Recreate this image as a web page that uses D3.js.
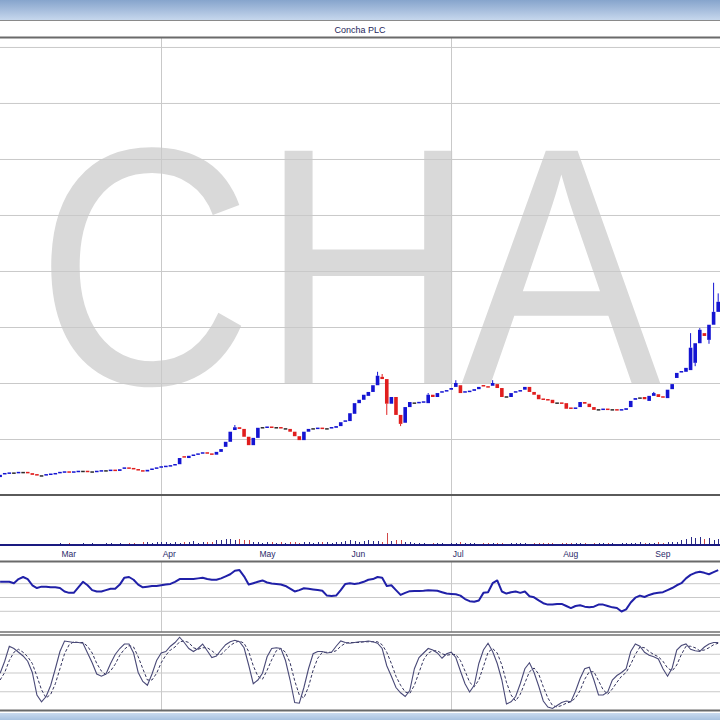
<!DOCTYPE html>
<html><head><meta charset="utf-8">
<script src="https://cdn.jsdelivr.net/npm/d3@7"></script>
<style>body{margin:0;background:#fff}svg{display:block}</style>
</head><body><svg id="c" width="720" height="720"></svg>
<script>
// ---------- DATA ----------
const title = "Concha PLC";
const watermarkLetters = ["C","H","A"];
const monthLabels = ["Mar","Apr","May","Jun","Jul","Aug","Sep"];
const monthStart  = [13, 35, 56, 76, 98, 122, 142];      // trading-day index of month start
const quarterStart = [35, 98];                            // Apr, Jul gridlines
const priceTicks = [1,2,3,4,5,6,7,8];
const rsiTicks = [30,50,70];
const stochTicks = [25,50,75];

const open = [
0.32,0.36,0.38,0.39,0.39,0.40,0.40,0.39,0.36,0.34,
0.34,0.36,0.37,0.38,0.40,0.41,0.40,0.41,0.42,0.42,
0.41,0.41,0.42,0.43,0.43,0.44,0.43,0.46,0.48,0.47,
0.45,0.43,0.42,0.45,0.46,0.48,0.50,0.51,0.52,0.55,
0.68,0.66,0.70,0.71,0.73,0.75,0.73,0.72,0.77,0.86,
0.95,1.16,1.21,1.18,1.04,0.89,1.02,1.20,1.20,1.21,
1.20,1.20,1.18,1.18,1.13,1.05,0.98,1.13,1.18,1.18,
1.19,1.18,1.18,1.20,1.23,1.30,1.32,1.45,1.64,1.70,
1.77,1.84,1.96,2.11,2.07,1.63,1.75,1.43,1.29,1.57,
1.64,1.64,1.65,1.64,1.79,1.75,1.82,1.84,1.88,1.93,
1.96,1.82,1.84,1.86,1.89,1.95,1.93,1.95,1.98,1.91,
1.75,1.75,1.82,1.84,1.88,1.93,1.84,1.79,1.71,1.70,
1.70,1.64,1.64,1.64,1.55,1.54,1.57,1.66,1.63,1.57,
1.52,1.52,1.53,1.52,1.52,1.51,1.52,1.57,1.70,1.73,
1.75,1.68,1.77,1.80,1.75,1.73,1.89,2.09,2.18,2.20,
2.23,2.36,2.71,2.89,2.77,3.04,3.27];
const close = [
0.36,0.38,0.39,0.39,0.40,0.40,0.39,0.36,0.34,0.34,
0.36,0.37,0.38,0.40,0.41,0.40,0.41,0.42,0.42,0.41,
0.41,0.42,0.43,0.43,0.44,0.43,0.46,0.48,0.47,0.45,
0.43,0.42,0.45,0.46,0.48,0.50,0.51,0.52,0.54,0.66,
0.66,0.70,0.71,0.73,0.75,0.73,0.72,0.77,0.82,0.95,
1.13,1.21,1.18,1.04,0.89,1.02,1.20,1.20,1.21,1.20,
1.20,1.18,1.18,1.13,1.05,0.98,1.13,1.18,1.18,1.19,
1.18,1.18,1.20,1.23,1.30,1.32,1.46,1.64,1.70,1.79,
1.84,1.96,2.13,2.07,1.63,1.75,1.43,1.27,1.57,1.66,
1.64,1.65,1.66,1.79,1.75,1.82,1.84,1.86,1.91,2.00,
1.82,1.84,1.85,1.89,1.93,1.93,1.92,2.00,1.91,1.75,
1.75,1.82,1.84,1.86,1.93,1.84,1.79,1.71,1.70,1.69,
1.64,1.64,1.63,1.54,1.54,1.55,1.66,1.63,1.57,1.52,
1.52,1.53,1.52,1.52,1.51,1.52,1.55,1.68,1.73,1.73,
1.71,1.77,1.82,1.75,1.73,1.88,1.98,2.18,2.20,2.27,
2.63,2.71,2.95,2.84,3.04,3.27,3.45];
// wick extremes (only where a wick sticks out of the body): [index, value]
const highs = [[51,1.25],[82,2.20],[83,2.16],[93,1.82],[99,2.05],[107,2.05],[142,1.84],[150,2.89],[152,2.98],[155,3.79],[156,3.60]];
const lows  = [[84,1.43],[87,1.23],[151,2.30],[154,2.70]];

const volume = [
0,1,0,1,0,0,1,0,0,1,0,0,1,
2,1,2,1,1,2,1,2,1,1,2,2,1,2,1,2,2,1,3,3,2,3,
3,3,2,3,2,3,3,4,2,3,3,3,
5,5,6,6,5,6,5,5,
3,3,2,3,3,2,3,2,3,3,2,3,3,2,3,3,3,2,3,3,
4,5,4,3,4,5,4,4,3,
12,4,5,5,3,3,
2,2,2,1,2,2,2,1,2,2,3,2,2,2,1,2,2,2,2,2,1,2,2,2,2,1,2,2,2,2,2,1,2,2,2,2,2,2,1,2,2,2,2,2,1,2,2,2,2,3,2,2,
2,3,2,3,3,3,
5,6,8,7,8,6,7,5,6];

const rsi = [
72,72,72,70,76,79,76,67,63,65,
65,64,64,63,58,56,56,64,72,67,
60,58,58,60,62,62,68,78,79,75,
68,64,65,66,66,67,68,69,72,76,
76,76,76,77,78,76,75,75,77,80,
83,88,89,80,68,70,72,74,71,69.5,
69,68,66,62,58,60,62.6,62,61,60,
59,52,51.4,52,60,69,70,69,70,72,
75,76,79,78,66,67,60,53,56,58.5,
58.7,58.7,59,59.7,59.5,59,57,55,54.5,54,
52,47,44,43,45,56,57,70,74,58,
55,57,58,56,58,51,49.5,45,41,39,
39,40,40,37,34,37,38,36,35,36,
39,39,37,35,34,29,32,42,49,52,
50,53,55,56,57,60,63,67,70,77,
82,85,86.5,85,83,86,89];

const stochK = [
49,65,85,82,77,72,65,50,20,11,
18,33,55,78,92,91,90,90,89,76,
63,48,45,48,62,74,82,88,88,76,
50,38,33,48,66,76,78,85,90,97,
90,82,78,82,88,79,70,72,80,87,
91,93,91,83,60,35,40,49,71,82,
83,82,66,40,10,9,30,55,75,78,
78,76,77,85,92,90,89,90,91,91,
92,91,89,82,59,45,30,23,18,26,
55,70,76,82,80,76,69,75,77,70,
52,35,24,33,62,80,89,78,62,40,
8,11,18,35,55,63,50,32,12,4,
2,6,10,12,11,25,42,55,57,40,
20,20,24,40,46,50,55,78,88,85,
77,73,71,68,55,45,56,80,86,88,
81,79,78,84,88,90,90];
const stochD = [
40,50,66,77,81,77,71,62,45,27,
16,21,35,55,75,87,91,90,90,85,
76,62,52,47,52,61,73,81,86,84,
71,55,40,40,49,63,73,80,84,91,
92,90,83,81,83,83,79,74,74,80,
86,90,92,89,78,59,45,41,53,67,
79,82,77,63,39,20,16,31,53,69,
77,77,77,79,85,89,90,90,90,91,
91,91,91,87,77,62,45,33,24,22,
33,50,67,76,79,79,75,73,74,74,
66,52,37,31,40,58,77,82,76,60,
37,20,12,21,36,51,56,48,31,16,
6,4,6,9,11,16,26,41,51,51,
39,27,21,28,37,45,50,61,74,84,
83,78,74,71,65,56,52,60,74,85,
85,83,79,80,83,87,89];

// ---------- CHART ----------
const svg = d3.select("#c");
const W = 720;
const N = close.length;
const x = d3.scaleLinear().domain([0, N - 1]).range([0.1, 718.2]);
const yP = d3.scaleLinear().domain([0, 8.16]).range([495, 38]);
const yV = d3.scaleLinear().domain([0, 50]).range([545, 495]);
const yR = d3.scaleLinear().domain([0, 100]).range([631.5, 562.5]);
const yS = d3.scaleLinear().domain([0, 100]).range([710, 635]);

const defs = svg.append("defs");
const g1 = defs.append("linearGradient").attr("id","topbar").attr("x1",0).attr("x2",0).attr("y1",0).attr("y2",1);
g1.append("stop").attr("offset","0%").attr("stop-color","#86a4cc");
g1.append("stop").attr("offset","100%").attr("stop-color","#c6d7ed");
const g2 = defs.append("linearGradient").attr("id","botbar").attr("x1",0).attr("x2",0).attr("y1",0).attr("y2",1);
g2.append("stop").attr("offset","0%").attr("stop-color","#c9daee");
g2.append("stop").attr("offset","100%").attr("stop-color","#a9c2e0");

svg.append("rect").attr("width",W).attr("height",720).attr("fill","#fff");
svg.append("rect").attr("x",0).attr("y",0).attr("width",W).attr("height",20).attr("fill","url(#topbar)");
svg.append("line").attr("x1",0).attr("x2",W).attr("y1",20.5).attr("y2",20.5).attr("stroke","#8a8a8a");
svg.append("text").attr("x",360).attr("y",33).attr("text-anchor","middle")
  .attr("font-family","Liberation Sans, Arial, sans-serif").attr("font-size",9).attr("fill","#1e1e5a").text(title);

// watermark (one glyph per letter so the spacing follows the reference)
const wmX = [36, 260, 461];
svg.append("text").attr("transform","translate(0,384) scale(1,1.13)")
  .attr("font-family","Liberation Sans, Arial, sans-serif").attr("font-size",300)
  .attr("fill","#d9d9d9")
  .selectAll("tspan").data(watermarkLetters).join("tspan")
  .attr("x",(d,i)=>wmX[i]).attr("y",0).text(d=>d);

const gridColor = "#c9c9c9";
svg.append("g")
  .call(d3.axisLeft(yP).tickValues(priceTicks).tickSize(-W).tickFormat(""))
  .call(g => g.select(".domain").remove())
  .call(g => g.selectAll("line").attr("stroke",gridColor));
svg.append("g").call(d3.axisLeft(yR).tickValues(rsiTicks).tickSize(-W).tickFormat(""))
  .call(g => g.select(".domain").remove())
  .call(g => g.selectAll("line").attr("stroke",gridColor));
svg.append("g").call(d3.axisLeft(yS).tickValues(stochTicks).tickSize(-W).tickFormat(""))
  .call(g => g.select(".domain").remove())
  .call(g => g.selectAll("line").attr("stroke",gridColor));
const vSpans = [[38,545],[562,632],[635,710]];
vSpans.forEach(([a,b]) => {
  svg.append("g").selectAll("line").data(quarterStart).join("line")
    .attr("x1",d=>Math.round(x(d))+0.5).attr("x2",d=>Math.round(x(d))+0.5)
    .attr("y1",a).attr("y2",b).attr("stroke",gridColor);
});

// candles
const UP = "#1414d2", DN = "#e01e1e", FLAT = "#2a2a2a";
const col = i => close[i] > open[i] ? UP : (close[i] < open[i] ? DN : FLAT);
const idx = d3.range(N);
const bw = 3.6;
const cg = svg.append("g");
cg.selectAll("line.wh").data(highs).join("line")
  .attr("x1",d=>x(d[0])).attr("x2",d=>x(d[0]))
  .attr("y1",d=>yP(d[1])).attr("y2",d=>yP(Math.max(open[d[0]],close[d[0]])))
  .attr("stroke",d=>col(d[0])).attr("stroke-width",1);
cg.selectAll("line.wl").data(lows).join("line")
  .attr("x1",d=>x(d[0])).attr("x2",d=>x(d[0]))
  .attr("y1",d=>yP(d[1])).attr("y2",d=>yP(Math.min(open[d[0]],close[d[0]])))
  .attr("stroke",d=>col(d[0])).attr("stroke-width",1);
cg.selectAll("rect").data(idx).join("rect")
  .attr("x",i=>x(i)-bw/2)
  .attr("y",i=>Math.min(yP(open[i]),yP(close[i])) - (Math.abs(yP(open[i])-yP(close[i]))<1.5?0.75:0))
  .attr("width",bw)
  .attr("height",i=>Math.max(1.5, Math.abs(yP(open[i])-yP(close[i]))))
  .attr("fill",col);

// volume
svg.append("g").selectAll("rect").data(idx.filter(i=>volume[i]>0)).join("rect")
  .attr("x",i=>Math.round(x(i)))
  .attr("y",i=>yV(volume[i]))
  .attr("width",1)
  .attr("height",i=>yV(0)-yV(volume[i]))
  .attr("fill",i=>close[i] < open[i] ? "#d04848" : "#2a2a88");
svg.append("line").attr("x1",0).attr("x2",W).attr("y1",545).attr("y2",545).attr("stroke","#1a1a80").attr("stroke-width",2);

// month labels
svg.append("g").selectAll("text").data(monthLabels).join("text")
  .attr("x",(d,i)=>x(monthStart[i])+1.5).attr("y",557)
  .attr("font-family","Liberation Sans, Arial, sans-serif").attr("font-size",8.5)
  .attr("fill","#2a2a6a").text(d=>d);

// RSI line
svg.append("path").datum(idx)
  .attr("d", d3.line().x(i=>x(i)).y(i=>yR(rsi[i])))
  .attr("fill","none").attr("stroke","#2020a8").attr("stroke-width",2).attr("stroke-linejoin","round");

// Stochastic
svg.append("path").datum(idx)
  .attr("d", d3.line().x(i=>x(i)).y(i=>yS(stochD[i])))
  .attr("fill","none").attr("stroke","#33335e").attr("stroke-width",1).attr("stroke-dasharray","3,2");
svg.append("path").datum(idx)
  .attr("d", d3.line().x(i=>x(i)).y(i=>yS(stochK[i])))
  .attr("fill","none").attr("stroke","#4a4a78").attr("stroke-width",1.1);

// panel separators
const sep = (y,w,c) => svg.append("line").attr("x1",0).attr("x2",W).attr("y1",y).attr("y2",y).attr("stroke",c).attr("stroke-width",w);
sep(37.5,2,"#6a6a6a");
sep(495,2,"#5a5a5a");
sep(561.5,2,"#6a6a6a");
sep(632,1.5,"#707070");
sep(635,1.5,"#707070");
sep(710.5,2,"#6a6a6a");
svg.append("rect").attr("x",0).attr("y",713).attr("width",W).attr("height",7).attr("fill","url(#botbar)");
</script></body></html>
